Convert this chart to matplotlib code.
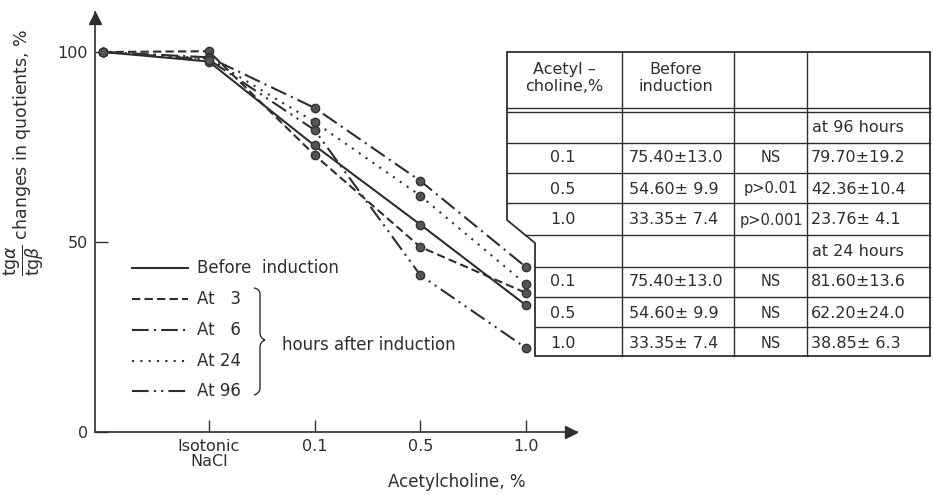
"""Quotient changes vs acetylcholine concentration, with the summary table."""

import matplotlib

matplotlib.use("Agg")
import matplotlib.pyplot as plt
from matplotlib.patches import PathPatch, Polygon
from matplotlib.path import Path
from matplotlib.transforms import offset_copy

# values
categories = ["", "Isotonic\nNaCl", "0.1", "0.5", "1.0"]
before = [100, 97.5, 75.4, 54.6, 33.35]
at_3 = [100, 100.2, 72.9, 48.7, 36.6]
at_6 = [100, 98.6, 85.3, 66.1, 43.4]
at_24 = [100, 98.3, 81.6, 62.2, 38.85]
at_96 = [100, 98.0, 79.5, 41.3, 22.1]
series_labels = ["Before  induction", "At   3", "At   6", "At 24", "At 96"]
y_ticks = [0, 50, 100]

# table contents
conc = ["0.1", "0.5", "1.0"]
before_txt = ["75.40±13.0", "54.60± 9.9", "33.35± 7.4"]
p_96 = ["NS", "p>0.01", "p>0.001"]
val_96 = ["79.70±19.2", "42.36±10.4", "23.76± 4.1"]
p_24 = ["NS", "NS", "NS"]
val_24 = ["81.60±13.6", "62.20±24.0", "38.85± 6.3"]

INK = "#2e2e2e"
W, H = 933, 495
STYLES = [
    "-",
    (0, (4, 2)),
    (0, (8, 2.5, 1, 2.5)),
    (0, (1, 3)),
    (0, (8, 2.5, 1, 2.5, 1, 2.5)),
]


def fx(x):
    return x / W


def fy(y):
    return 1 - y / H


plt.rcParams["font.family"] = "DejaVu Sans"
fig = plt.figure(figsize=(W / 100, H / 100), dpi=100)
fig.set_facecolor("white")

# main axes: data x 0 -> px 103, x 4 -> px 526; y 0 -> px 432, y 100 -> px 52
k = (526 - 103) / 4
ax = fig.add_axes([fx(95), fy(432), (577 - 95) / W, (432 - 12) / H])
ax.set_xlim(-(103 - 95) / k, 4 + (577 - 526) / k)
ax.set_ylim(0, (432 - 12) / 3.8)
ax.patch.set_alpha(0)

xs = list(range(len(categories)))
for vals, ls in zip([before, at_3, at_6, at_24, at_96], STYLES):
    ax.plot(xs, vals, linestyle=ls, color=INK, lw=1.5, marker="o", ms=6,
            mfc="#555555", mec="#333333", clip_on=False)

for side in ["top", "right"]:
    ax.spines[side].set_visible(False)
for side in ["left", "bottom"]:
    ax.spines[side].set_color(INK)
    ax.spines[side].set_linewidth(1.2)

ax.set_xticks(xs[1:])
ax.set_xticklabels(categories[1:], fontsize=11.5, color=INK, linespacing=1.0)
ax.set_yticks(y_ticks)
ax.set_yticklabels([str(t) for t in y_ticks], fontsize=11.5, color=INK)
ax.tick_params(axis="both", direction="in", length=9, width=1.0, color=INK, pad=5)

# arrow heads on the axes
ax.plot(1, 0, ">", color=INK, ms=9, clip_on=False,
        transform=offset_copy(ax.transAxes, fig=fig, x=-4, units="points"))
ax.plot(0, 1, "^", color=INK, ms=9, clip_on=False,
        transform=offset_copy(ax.transAxes, fig=fig, y=-4, units="points"))

fig.text(fx(457), fy(482), "Acetylcholine, %", fontsize=12, color=INK,
         ha="center", va="center")
fig.text(fx(24), fy(152),
         r"$\dfrac{\mathrm{tg}\alpha}{\mathrm{tg}\beta}$ changes in quotients, %",
         fontsize=12.5, color=INK, rotation=90, ha="center", va="center")

# overlay in pixel coords for legend and table
ov = fig.add_axes([0, 0, 1, 1], zorder=3)
ov.set_xlim(0, W)
ov.set_ylim(H, 0)
ov.axis("off")
ov.patch.set_alpha(0)

# legend
legend_y = [268, 299, 330, 361, 391]
for y, ls, label in zip(legend_y, STYLES, series_labels):
    ov.plot([132, 188], [y, y], linestyle=ls, color=INK, lw=1.5)
    ov.text(197, y, label, fontsize=12, color=INK, va="center")

brace = Path(
    [(254, 288), (260, 289), (260, 294), (260, 333), (260, 338), (265, 340),
     (260, 342), (260, 347), (260, 388), (260, 393), (254, 395)],
    [Path.MOVETO, Path.CURVE3, Path.CURVE3, Path.LINETO, Path.CURVE3, Path.CURVE3,
     Path.CURVE3, Path.CURVE3, Path.LINETO, Path.CURVE3, Path.CURVE3],
)
ov.add_patch(PathPatch(brace, fill=False, edgecolor=INK, lw=1.0))
ov.text(282, 345, "hours after induction", fontsize=12, color=INK, va="center")

# table
outline = [(507, 52), (930, 52), (930, 356), (535, 356), (535, 243), (507, 220)]
ov.add_patch(Polygon(outline, closed=True, facecolor="white", edgecolor=INK, lw=1.3))
lw_t = 1.0
for y in [108, 112, 143, 173, 203]:
    ov.plot([507, 930], [y, y], color=INK, lw=lw_t)
ov.plot([525, 930], [235, 235], color=INK, lw=lw_t)
for y in [267, 297, 327]:
    ov.plot([535, 930], [y, y], color=INK, lw=lw_t)
for x in [622, 734, 807]:
    ov.plot([x, x], [52, 356], color=INK, lw=lw_t)

fs = 11.5
ov.text(564, 78, "Acetyl –\ncholine,%", fontsize=fs, color=INK,
        ha="center", va="center", linespacing=1.2)
ov.text(676, 78, "Before\ninduction", fontsize=fs, color=INK,
        ha="center", va="center", linespacing=1.2)


def block(top_y, label, pvals, vals):
    ov.text(812, top_y, label, fontsize=fs, color=INK, va="center")
    for i in range(3):
        y = top_y + 30 + 31 * i
        ov.text(550, y, conc[i], fontsize=fs, color=INK, va="center")
        ov.text(629, y, before_txt[i], fontsize=fs, color=INK, va="center")
        ov.text(771, y, pvals[i], fontsize=10.5, color=INK, va="center", ha="center")
        ov.text(811, y, vals[i], fontsize=fs, color=INK, va="center")


block(128, "at 96 hours", p_96, val_96)
block(252, "at 24 hours", p_24, val_24)

plt.savefig("out.png", dpi=100, facecolor="white")
